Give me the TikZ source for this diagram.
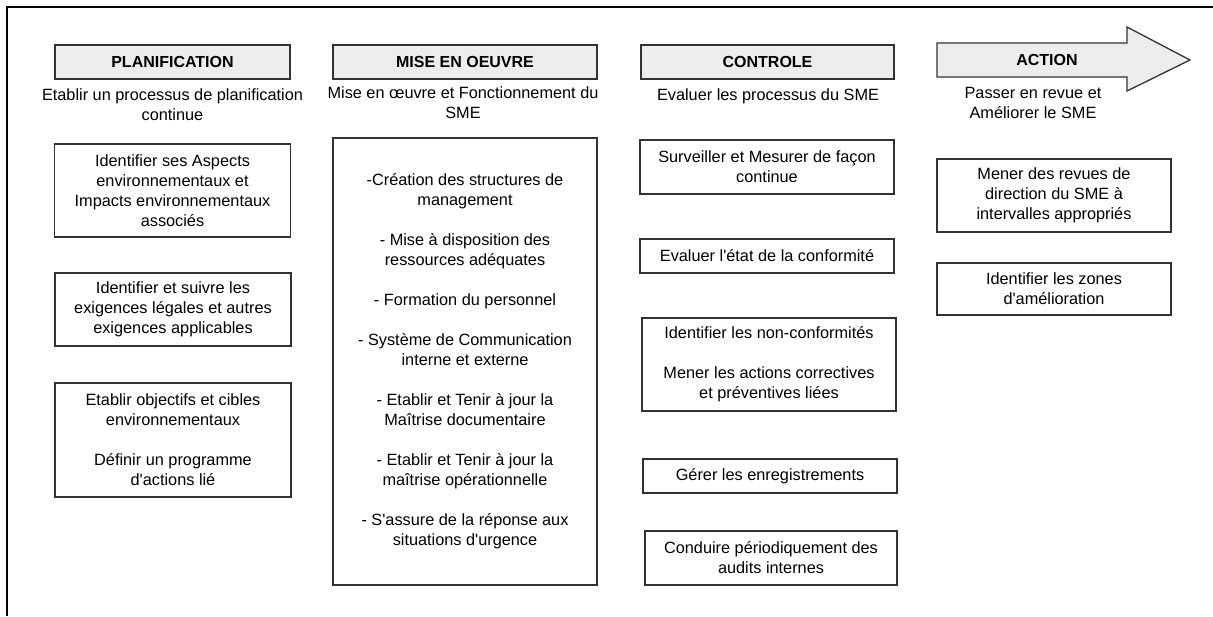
\documentclass[tikz,border=0pt]{standalone}
\usepackage{fontspec}
\setmainfont{Liberation Sans}[Ligatures=TeXOff]
\definecolor{boxline}{HTML}{333333}
\definecolor{headfill}{HTML}{EDEDED}
\begin{document}
\begin{tikzpicture}[x=1pt,y=-1pt,
  every node/.style={font=\fontsize{16.3}{20}\selectfont,align=center,inner sep=0pt},
  headbox/.style={draw=boxline,line width=1.3pt,fill=headfill,font=\fontsize{16}{20}\selectfont\bfseries},
  itembox/.style={draw=boxline,line width=1.3pt},
  arrowbox/.style={draw=boxline,line width=1.3pt,fill=headfill,line join=miter}]
\useasboundingbox (0,0) rectangle (1213,616);
\draw[line width=2.6pt] (7,616) -- (7,7) -- (1213,7);
\node[headbox,minimum width=235,minimum height=34] (hplan) at (172.5,62) {PLANIFICATION};
\node[headbox,minimum width=264,minimum height=34] (hmise) at (465,62) {MISE EN OEUVRE};
\node[headbox,minimum width=253,minimum height=34] (hcont) at (767.5,62) {CONTROLE};
\draw[arrowbox] (937,43) -- (1127,43) -- (1127,27) -- (1190,60) -- (1127,91) -- (1127,77) -- (937,77) -- cycle;
\node[font=\fontsize{16}{20}\selectfont\bfseries] (hact) at (1047,60) {ACTION};
\node (splan) at (172.5,105) {Etablir un processus de planification\\continue};
\node (smise) at (463,103) {Mise en œuvre et Fonctionnement du\\SME};
\node (scont) at (768,96) {Evaluer les processus du SME};
\node (sact) at (1033,103) {Passer en revue et\\Améliorer le SME};
\node[itembox,minimum width=236,minimum height=93] (plan1) at (172.5,190.5) {Identifier ses Aspects\\environnementaux et\\Impacts environnementaux\\associés};
\node[itembox,minimum width=236,minimum height=73] (plan2) at (173,309.5) {Identifier et suivre les\\exigences légales et autres\\exigences applicables};
\node[itembox,minimum width=236,minimum height=114] (plan3) at (173,440) {Etablir objectifs et cibles\\environnementaux\\[20pt]Définir un programme\\d'actions lié};
\node[itembox,minimum width=264,minimum height=447] (mise) at (465,361.5) {-Création des structures de\\management\\[20pt]- Mise à disposition des\\ressources adéquates\\[20pt]- Formation du personnel\\[20pt]- Système de Communication\\interne et externe\\[20pt]- Etablir et Tenir à jour la\\Maîtrise documentaire\\[20pt]- Etablir et Tenir à jour la\\maîtrise opérationnelle\\[20pt]- S'assure de la réponse aux\\situations d'urgence};
\node[itembox,minimum width=254,minimum height=54] (cont1) at (767,167) {Surveiller et Mesurer de façon\\continue};
\node[itembox,minimum width=254,minimum height=34] (cont2) at (767,256) {Evaluer l'état de la conformité};
\node[itembox,minimum width=254,minimum height=93] (cont3) at (769,364.5) {Identifier les non-conformités\\[20pt]Mener les actions correctives\\et préventives liées};
\node[itembox,minimum width=254,minimum height=34] (cont4) at (770,476) {Gérer les enregistrements};
\node[itembox,minimum width=252,minimum height=54] (cont5) at (771,558) {Conduire périodiquement des\\audits internes};
\node[itembox,minimum width=234,minimum height=73] (act1) at (1054,195.5) {Mener des revues de\\direction du SME à\\intervalles appropriés};
\node[itembox,minimum width=234,minimum height=52] (act2) at (1054,289) {Identifier les zones\\d'amélioration};
\end{tikzpicture}
\end{document}
